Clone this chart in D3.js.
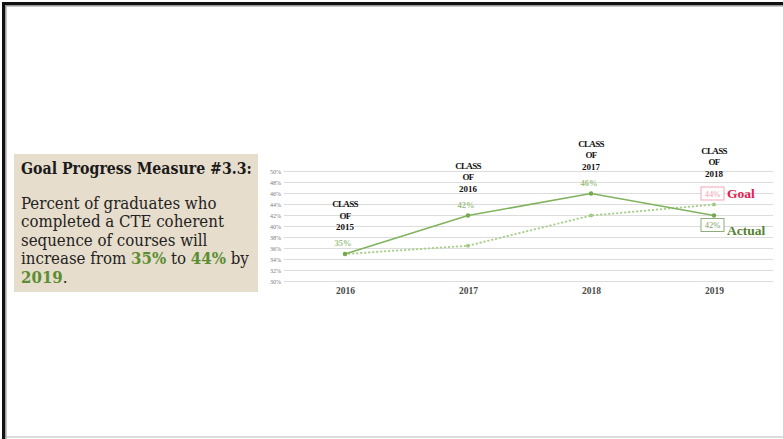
<!DOCTYPE html>
<html>
<head>
<meta charset="utf-8">
<script src="https://cdn.jsdelivr.net/npm/d3@7"></script>
<style>
  html, body { margin: 0; padding: 0; background: #fff; }
  svg { display: block; }
</style>
</head>
<body>
<svg id="chart" width="783" height="439"></svg>
<script>
// ---- data ----
const years = ["2016", "2017", "2018", "2019"];
const classLabels = ["2015", "2016", "2017", "2018"];
const actualValues = [35, 42, 46, 42];
const goalValues = [35, 36.5, 42, 44];
const yTicks = [30, 32, 34, 36, 38, 40, 42, 44, 46, 48, 50];
const titleText = "Goal Progress Measure #3.3:";
const bodyLines = [
  [["Percent of graduates who", false]],
  [["completed a CTE coherent", false]],
  [["sequence of courses will", false]],
  [["increase from ", false], ["35%", true], [" to ", false], ["44%", true], [" by", false]],
  [["2019", true], [".", false]]
];

const svg = d3.select("#chart");
const serif = "'DejaVu Serif Condensed', 'DejaVu Serif', 'Liberation Serif', serif";
const times = "'Liberation Serif', 'Times New Roman', serif";
const greenText = "#5b8d33";

// ---- slide frame ----
svg.append("rect").attr("x", 0).attr("y", 0).attr("width", 783).attr("height", 439).attr("fill", "#fff");
svg.append("line").attr("x1", 2).attr("x2", 783).attr("y1", 3.5).attr("y2", 3.5).attr("stroke", "#111").attr("stroke-width", 3);
svg.append("line").attr("x1", 5).attr("x2", 783).attr("y1", 5.8).attr("y2", 5.8).attr("stroke", "#999").attr("stroke-width", 1.5);
svg.append("line").attr("x1", 3.5).attr("x2", 3.5).attr("y1", 2).attr("y2", 439).attr("stroke", "#111").attr("stroke-width", 3);
svg.append("line").attr("x1", 5.8).attr("x2", 5.8).attr("y1", 5).attr("y2", 439).attr("stroke", "#999").attr("stroke-width", 1.5);
svg.append("line").attr("x1", 6).attr("x2", 783).attr("y1", 437).attr("y2", 437).attr("stroke", "#bbb").attr("stroke-width", 1.2);

// ---- text panel ----
svg.append("rect").attr("x", 14).attr("y", 154).attr("width", 244).attr("height", 138).attr("fill", "#e7ddcc");

function fitSize(sel, target, start) {
  sel.attr("font-size", start);
  const w = sel.node().getComputedTextLength();
  sel.attr("font-size", start * target / w);
}

const title = svg.append("text")
  .attr("x", 21).attr("y", 173.5)
  .attr("font-family", serif).attr("font-weight", "bold").attr("fill", "#1a1a1a")
  .text(titleText);
fitSize(title, 231, 16);

const body = svg.append("g").attr("font-family", serif).attr("fill", "#222");
const bodyBase = [208.5, 227, 245.5, 264, 282.5];
bodyLines.forEach((parts, i) => {
  const t = body.append("text").attr("x", 21).attr("y", bodyBase[i]);
  parts.forEach(([s, hi]) => {
    const ts = t.append("tspan").text(s);
    if (hi) ts.attr("fill", greenText).attr("font-weight", "bold");
  });
  t.attr("font-size", 16);
});
// scale the body font so the longest line spans the panel
{
  const longest = body.selectAll("text").nodes()[3];
  const w = longest.getComputedTextLength();
  body.selectAll("text").attr("font-size", 16 * 228 / w);
}

// ---- chart ----
const x = d3.scalePoint().domain(years).range([345, 714]);
const y = d3.scaleLinear().domain([30, 50]).range([281.5, 171.5]);
const gridX0 = 284, gridX1 = 773;

const grid = svg.append("g");
grid.selectAll("line").data(yTicks).join("line")
  .attr("x1", gridX0).attr("x2", gridX1)
  .attr("y1", d => y(d)).attr("y2", d => y(d))
  .attr("stroke", "#dcdcdc").attr("stroke-width", 1);

const yAxis = d3.axisLeft(y).tickValues(yTicks).tickFormat(d => d + "%").tickSize(0).tickPadding(0);
const yg = svg.append("g").attr("transform", `translate(281,0)`).call(yAxis);
yg.select(".domain").remove();
yg.selectAll("text").attr("font-family", times).attr("font-size", 6).attr("fill", "#7a7a7a");

const xAxis = d3.axisBottom(x).tickSize(0).tickPadding(0);
const xg = svg.append("g").attr("transform", `translate(0,287.5)`).call(xAxis);
xg.select(".domain").remove();
xg.selectAll("text").attr("font-family", times).attr("font-weight", "bold").attr("font-size", 9.5).attr("fill", "#4a4a4a");

const goalData = years.map((yr, i) => ({ yr, v: goalValues[i] }));
const actualData = years.map((yr, i) => ({ yr, v: actualValues[i] }));
const line = d3.line().x(d => x(d.yr)).y(d => y(d.v));

svg.append("path").datum(goalData).attr("d", line)
  .attr("fill", "none").attr("stroke", "#acd08f").attr("stroke-width", 2)
  .attr("stroke-dasharray", "0.5 3.5").attr("stroke-linecap", "round");
svg.append("g").selectAll("circle").data(goalData).join("circle")
  .attr("cx", d => x(d.yr)).attr("cy", d => y(d.v)).attr("r", 2).attr("fill", "#a3c986");

svg.append("path").datum(actualData).attr("d", line)
  .attr("fill", "none").attr("stroke", "#80b35d").attr("stroke-width", 1.6);
svg.append("g").selectAll("circle").data(actualData).join("circle")
  .attr("cx", d => x(d.yr)).attr("cy", d => y(d.v)).attr("r", 2.2).attr("fill", "#74a94f");

// value + class labels above each year
const labels = svg.append("g").attr("text-anchor", "middle");
years.forEach((yr, i) => {
  const top = Math.min(y(actualValues[i]), y(goalValues[i]));
  const cx = x(yr);
  const last = i === years.length - 1;
  const classBase = last ? top - 28 : top - 24;
  const cl = labels.append("g").attr("font-family", times).attr("font-weight", "bold").attr("fill", "#111");
  ["CLASS", "OF", classLabels[i]].forEach((s, k) => {
    const t = cl.append("text").attr("x", cx).attr("y", classBase - (2 - k) * 11.5)
      .attr("font-size", 9).text(s);
    if (k < 2) t.attr("letter-spacing", -0.7);
  });
  if (!last) {
    labels.append("text").attr("x", cx - 2).attr("y", y(actualValues[i]) - 8)
      .attr("font-family", times).attr("font-weight", "bold").attr("font-size", 8.5)
      .attr("fill", "#9dc283").text(actualValues[i] + "%");
  }
});

// boxed end labels with series names
const endYr = years[years.length - 1];
const ex = x(endYr) - 1.5;
const endItems = [
  { v: goalValues[3], dy: -11, stroke: "#f2a7b9", fill: "#f2a0b4", name: "Goal", nameFill: "#e31c4f", nameDy: 4.5 },
  { v: actualValues[3], dy: 9.5, stroke: "#8fae7c", fill: "#7f9f6d", name: "Actual", nameFill: "#55822f", nameDy: 10 }
];
endItems.forEach(it => {
  const cy = y(it.v) + it.dy;
  svg.append("rect").attr("x", ex - 11.5).attr("y", cy - 6.5).attr("width", 23).attr("height", 13)
    .attr("fill", "#fff").attr("stroke", it.stroke).attr("stroke-width", 1);
  svg.append("text").attr("x", ex).attr("y", cy + 3).attr("text-anchor", "middle")
    .attr("font-family", times).attr("font-size", 8.5).attr("fill", it.fill).text(it.v + "%");
  svg.append("text").attr("x", ex + 14.5).attr("y", cy + it.nameDy - 0.5)
    .attr("font-family", times).attr("font-weight", "bold").attr("font-size", 13.5)
    .attr("fill", it.nameFill).text(it.name);
});
</script>
</body>
</html>
